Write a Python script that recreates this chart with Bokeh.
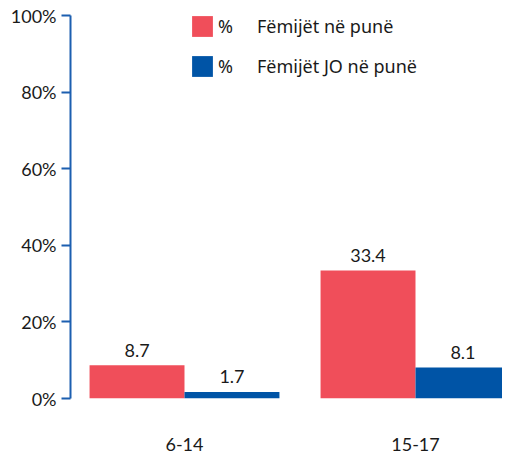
from bokeh.plotting import figure
from bokeh.models import Range1d, FixedTicker, ColumnDataSource, Legend, LegendItem
from bokeh.core.properties import value
from bokeh.embed import file_html
from bokeh.resources import INLINE

# ---- data ----
categories = ["6-14", "15-17"]
series_names = ["Fëmijët në punë", "Fëmijët JO në punë"]
working = [8.7, 33.4]
not_working = [1.7, 8.1]
y_ticks = [0, 20, 40, 60, 80, 100]
y_tick_labels = ["0%", "20%", "40%", "60%", "80%", "100%"]

# ---- style ----
RED = "#f04e5a"
BLUE = "#0054a6"
AXIS_BLUE = "#1c5fb0"
TXT = "#1a1a1a"
FONT = "Lato"
FS = "18px"
LEG_FONT = "Noto Sans"
LEG_FS = "18px"
BAR_W = 0.411

idx = list(range(len(categories)))
x_red = [i - BAR_W / 2 for i in idx]
x_blue = [i + BAR_W / 2 for i in idx]

x_start = -BAR_W - 0.0825
p = figure(width=502, height=453, output_backend="svg", toolbar_location=None,
           x_range=Range1d(x_start, x_start + 432 / 231),
           y_range=Range1d(0, 100),
           min_border_left=70, min_border_right=0, min_border_top=15, min_border_bottom=54)
p.outline_line_color = None
p.grid.visible = False
p.background_fill_color = "white"
p.border_fill_color = "white"

src_red = ColumnDataSource(dict(x=x_red, top=working, lab=[f"{v:.1f}" for v in working]))
src_blue = ColumnDataSource(dict(x=x_blue, top=not_working, lab=[f"{v:.1f}" for v in not_working]))

r_red = p.vbar(x="x", top="top", bottom=0, width=BAR_W, source=src_red,
               fill_color=RED, line_color=None)
r_blue = p.vbar(x="x", top="top", bottom=0, width=BAR_W, source=src_blue,
                fill_color=BLUE, line_color=None)

for src in (src_red, src_blue):
    p.text(x="x", y="top", text="lab", source=src, text_align="center",
           text_baseline="alphabetic", y_offset=-15, text_color=TXT,
           text_font=value(FONT), text_font_size=FS)

# y axis
ya = p.yaxis[0]
ya.ticker = FixedTicker(ticks=y_ticks)
ya.major_label_overrides = {t: l for t, l in zip(y_ticks, y_tick_labels)}
ya.axis_line_color = AXIS_BLUE
ya.axis_line_width = 2
ya.major_tick_line_color = AXIS_BLUE
ya.major_tick_line_width = 2
ya.major_tick_in = 0
ya.major_tick_out = 9
ya.minor_tick_line_color = None
ya.major_label_standoff = 5
ya.major_label_text_font = FONT
ya.major_label_text_font_size = FS
ya.major_label_text_color = TXT

# x axis
xa = p.xaxis[0]
xa.ticker = FixedTicker(ticks=idx)
xa.major_label_overrides = {i: c for i, c in zip(idx, categories)}
xa.axis_line_color = None
xa.major_tick_line_color = None
xa.minor_tick_line_color = None
xa.major_label_standoff = 33
xa.major_label_text_font = FONT
xa.major_label_text_font_size = FS
xa.major_label_text_color = TXT

# legend
sep = "\u2003\u2004"
legend = Legend(items=[LegendItem(label="%" + sep + series_names[0], renderers=[r_red]),
                       LegendItem(label="%" + sep + series_names[1], renderers=[r_blue])],
                location=(119, 319), orientation="vertical",
                glyph_width=26, glyph_height=26, label_standoff=3, spacing=14,
                padding=0, margin=0, border_line_color=None, background_fill_alpha=0,
                label_text_font=LEG_FONT, label_text_font_size=LEG_FS, label_text_color=TXT)
p.add_layout(legend, "center")

open("out.html", "w").write(file_html(p, INLINE))
